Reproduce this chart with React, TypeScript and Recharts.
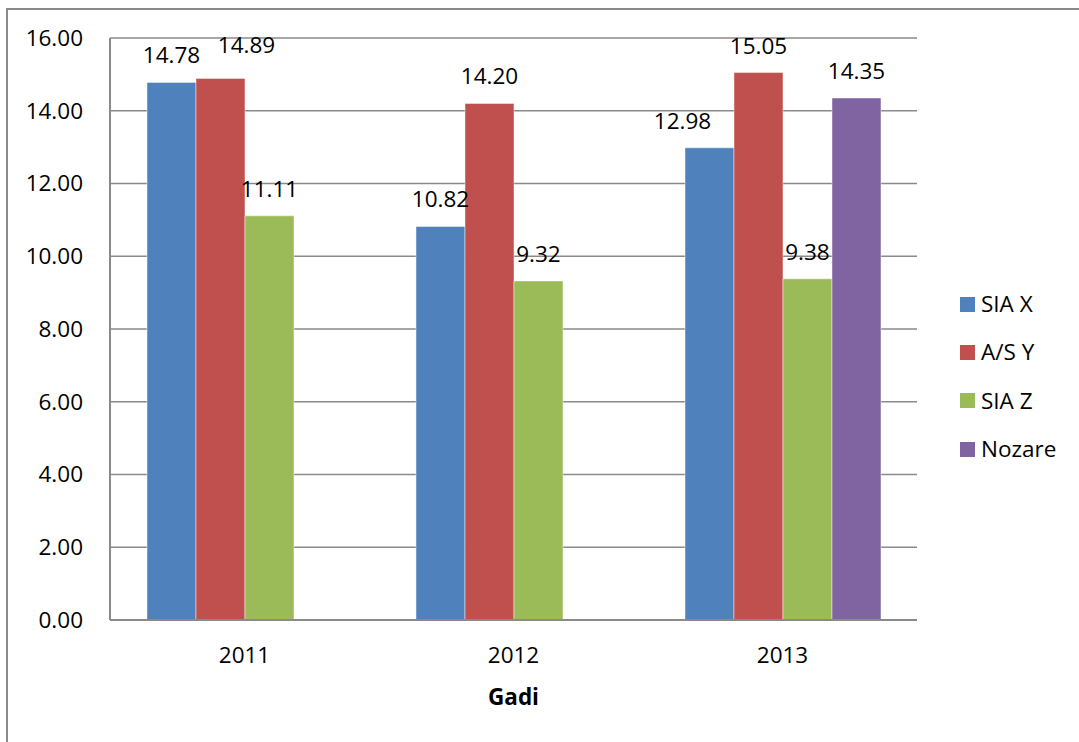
import React from 'react';
import { BarChart, Bar, XAxis, YAxis, CartesianGrid, Legend, LabelList } from 'recharts';

// Years on the category axis
const categories: string[] = ['2011', '2012', '2013'];

// Series values per year (null = no value for that year)
const siaX: (number | null)[] = [14.78, 10.82, 12.98];
const asY: (number | null)[] = [14.89, 14.2, 15.05];
const siaZ: (number | null)[] = [11.11, 9.32, 9.38];
const nozare: (number | null)[] = [null, null, 14.35];

// Value-axis ticks
const yTicks: number[] = [0, 2, 4, 6, 8, 10, 12, 14, 16];

const seriesDefs = [
  { key: 'siaX', name: 'SIA X', color: '#4F81BD', values: siaX },
  { key: 'asY', name: 'A/S Y', color: '#C0504D', values: asY },
  { key: 'siaZ', name: 'SIA Z', color: '#9BBB59', values: siaZ },
  { key: 'nozare', name: 'Nozare', color: '#8064A2', values: nozare },
];

const data = categories.map((year, i) => {
  const row: Record<string, string | number | null> = { year };
  seriesDefs.forEach((s) => {
    row[s.key] = s.values[i];
  });
  return row;
});

// A few value labels are nudged so they don't collide with neighbouring bars
const labelNudge: Record<string, { dx: number; dy: number }> = {
  'asY-0': { dx: 26, dy: -6 },
  'siaX-2': { dx: -27, dy: 0 },
};

const FONT = '"Open Sans", sans-serif';
const FS = 22.5;
const GRID = '#8a8a8a';

const makeLabel = (seriesKey: string) => (props: any) => {
  const { x, y, width, value, index } = props;
  if (value === null || value === undefined) return null;
  const n = labelNudge[`${seriesKey}-${index}`] || { dx: 0, dy: 0 };
  return (
    <text
      x={Number(x) + Number(width) / 2 + n.dx}
      y={Number(y) - 19 + n.dy}
      textAnchor="middle"
      fill="#000"
      fontSize={FS}
      fontFamily={FONT}
    >
      {Number(value).toFixed(2)}
    </text>
  );
};

// Legend keeps the series order rather than sorting by name
const renderLegend = () => (
  <div style={{ fontFamily: FONT, fontSize: FS, color: '#000' }}>
    {seriesDefs.map((s) => (
      <div key={s.key} style={{ height: 48.3, display: 'flex', alignItems: 'center' }}>
        <span
          style={{
            display: 'inline-block',
            width: 15,
            height: 15,
            background: s.color,
            marginRight: 6,
          }}
        />
        <span style={{ lineHeight: '24px' }}>{s.name}</span>
      </div>
    ))}
  </div>
);

export default function App() {
  return (
    <div
      style={{
        position: 'absolute',
        left: 0,
        top: 0,
        width: 1079,
        height: 742,
        overflow: 'hidden',
        background: '#fff',
      }}
    >
      <div
        style={{
          position: 'absolute',
          left: 6,
          top: 8,
          width: 1200,
          height: 900,
          borderLeft: `2px solid ${GRID}`,
          borderTop: `2px solid ${GRID}`,
        }}
      />
      <div style={{ position: 'absolute', left: 0, top: 0 }}>
        <BarChart
          width={1079}
          height={742}
          data={data}
          margin={{ top: 38, right: 162, left: 0, bottom: 0 }}
          barCategoryGap="13.75%"
          barGap={0}
        >
          <CartesianGrid vertical={false} stroke={GRID} strokeWidth={1.5} />
          <XAxis
            dataKey="year"
            height={122}
            tickLine={false}
            tickSize={0}
            tickMargin={27}
            axisLine={{ stroke: GRID, strokeWidth: 2 }}
            tick={{ fill: '#000', fontSize: FS, fontFamily: FONT }}
            label={{
              value: 'Gadi',
              position: 'insideTop',
              offset: 69,
              fill: '#000',
              fontSize: FS,
              fontWeight: 700,
              fontFamily: FONT,
            }}
          />
          <YAxis
            width={110}
            domain={[0, 16]}
            ticks={yTicks}
            interval={0}
            tickLine={false}
            tickSize={0}
            tickMargin={27}
            axisLine={{ stroke: GRID, strokeWidth: 2 }}
            tickFormatter={(v: number) => v.toFixed(2)}
            tick={{ fill: '#000', fontSize: FS, fontFamily: FONT }}
          />
          <Legend
            layout="vertical"
            align="center"
            verticalAlign="middle"
            content={renderLegend}
            wrapperStyle={{ left: 960, top: 280, width: 110, height: 200 }}
          />
          {seriesDefs.map((s) => (
            <Bar
              key={s.key}
              dataKey={s.key}
              name={s.name}
              fill={s.color}
              stroke="#ffffff"
              strokeOpacity={0.45}
              strokeWidth={1}
              isAnimationActive={false}
            >
              <LabelList dataKey={s.key} content={makeLabel(s.key)} />
            </Bar>
          ))}
        </BarChart>
      </div>
    </div>
  );
}
